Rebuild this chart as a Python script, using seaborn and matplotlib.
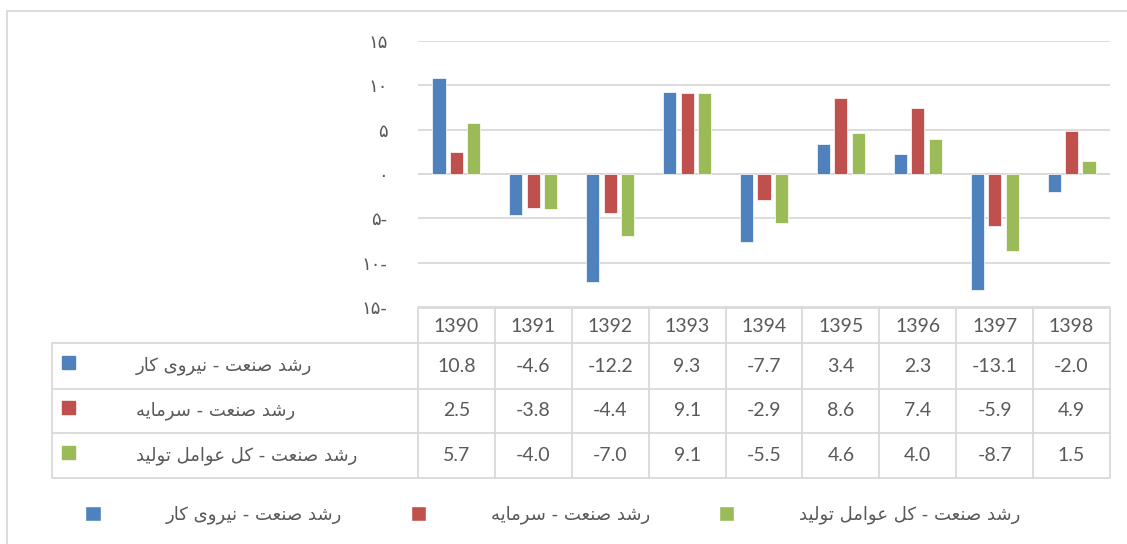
import numpy as np
import pandas as pd
import seaborn as sns
import matplotlib.pyplot as plt
from matplotlib.lines import Line2D
from matplotlib.patches import Patch
from matplotlib.transforms import blended_transform_factory

# data
years = ['1390', '1391', '1392', '1393', '1394', '1395', '1396', '1397', '1398']
labour = [10.8, -4.6, -12.2, 9.3, -7.7, 3.4, 2.3, -13.1, -2.0]
capital = [2.5, -3.8, -4.4, 9.1, -2.9, 8.6, 7.4, -5.9, 4.9]
tfp = [5.7, -4.0, -7.0, 9.1, -5.5, 4.6, 4.0, -8.7, 1.5]
series_names = ['رشد صنعت - نیروی کار', 'رشد صنعت - سرمایه', 'رشد صنعت - کل عوامل تولید']
colors = ['#4F81BD', '#C0504D', '#9BBB59']
yticks = [-15, -10, -5, 0, 5, 10, 15]

# minimal arabic/persian shaping (matplotlib has no complex text layout)
FORMS = {
    'ا': ('\uFE8D', '\uFE8E'), 'د': ('\uFEA9', '\uFEAA'), 'ر': ('\uFEAD', '\uFEAE'),
    'و': ('\uFEED', '\uFEEE'),
    'ت': ('\uFE95', '\uFE96', '\uFE97', '\uFE98'), 'س': ('\uFEB1', '\uFEB2', '\uFEB3', '\uFEB4'),
    'ش': ('\uFEB5', '\uFEB6', '\uFEB7', '\uFEB8'), 'ص': ('\uFEB9', '\uFEBA', '\uFEBB', '\uFEBC'),
    'ع': ('\uFEC9', '\uFECA', '\uFECB', '\uFECC'), 'ل': ('\uFEDD', '\uFEDE', '\uFEDF', '\uFEE0'),
    'م': ('\uFEE1', '\uFEE2', '\uFEE3', '\uFEE4'), 'ن': ('\uFEE5', '\uFEE6', '\uFEE7', '\uFEE8'),
    'ه': ('\uFEE9', '\uFEEA', '\uFEEB', '\uFEEC'), 'ی': ('\uFBFC', '\uFBFD', '\uFBFE', '\uFBFF'),
    'ک': ('\uFB8E', '\uFB8F', '\uFB90', '\uFB91'),
}


def shape(s):
    out = []
    for i, c in enumerate(s):
        if c not in FORMS:
            out.append(c)
            continue
        f = FORMS[c]
        prev = s[i - 1] if i > 0 else ''
        nxt = s[i + 1] if i + 1 < len(s) else ''
        jp = prev in FORMS and len(FORMS[prev]) == 4
        jn = len(f) == 4 and nxt in FORMS
        if jp and jn:
            out.append(f[3])
        elif jp:
            out.append(f[1])
        elif jn:
            out.append(f[2])
        else:
            out.append(f[0])
    return ''.join(out[::-1])


def fa_num(v):
    d = ''.join('۰۱۲۳۴۵۶۷۸۹'[int(ch)] for ch in str(abs(v)))
    return d + ('-' if v < 0 else '')


df = pd.DataFrame({
    'year': years * 3,
    'value': labour + capital + tfp,
    'series': sum([[n] * len(years) for n in series_names], []),
})

sns.set_theme(style='white')
plt.rcParams['font.family'] = ['Lato', 'DejaVu Sans']
txt = '#595959'
grid = '#D9D9D9'

W, H = 1127, 544
fig = plt.figure(figsize=(W / 100, H / 100), dpi=100)
ax = fig.add_axes([418 / W, 1 - 307 / H, 692 / W, 266 / H])

sns.barplot(data=df, x='year', y='value', hue='series', hue_order=series_names,
            palette=colors, saturation=1, width=0.68, gap=0.25, ax=ax, legend=False,
            edgecolor='white', linewidth=0.5)

ax.set_xlim(-0.5, len(years) - 0.5)
ax.set_ylim(-15, 15)
ax.set_yticks(yticks)
ax.set_yticklabels([fa_num(v) for v in yticks], family='DejaVu Sans', fontsize=13, color=txt)
ax.tick_params(axis='y', length=0, pad=22)
ax.set_xticks([])
ax.set_xlabel('')
ax.set_ylabel('')
for s in ax.spines.values():
    s.set_visible(False)
ax.grid(axis='y', color=grid, lw=1.3)
ax.set_axisbelow(True)
ax.axhline(0, color=grid, lw=1.3, zorder=0.5)


def fy(py):
    return 1 - py / H


# data table under the plot
tr = blended_transform_factory(ax.transData, fig.transFigure)
row_y = [308, 343, 389, 433, 478]
x_left = -0.5
x_right = len(years) - 0.5
lab_left = 52 / W
lw_tab = 1.3

fig.add_artist(Line2D([x_left, x_right], [fy(308), fy(308)], transform=tr, color=grid, lw=lw_tab))
for py in row_y[1:]:
    fig.add_artist(Line2D([lab_left, 418 / W], [fy(py), fy(py)], transform=fig.transFigure, color=grid, lw=lw_tab))
    fig.add_artist(Line2D([x_left, x_right], [fy(py), fy(py)], transform=tr, color=grid, lw=lw_tab))
fig.add_artist(Line2D([lab_left, lab_left], [fy(343), fy(478)], transform=fig.transFigure, color=grid, lw=lw_tab))
for k in range(len(years) + 1):
    xk = x_left + k
    fig.add_artist(Line2D([xk, xk], [fy(308), fy(478)], transform=tr, color=grid, lw=lw_tab))

for i, yr in enumerate(years):
    fig.text(i, fy(326), yr, transform=tr, ha='center', va='center', fontsize=14, color=txt)

rows = [labour, capital, tfp]
for r, vals in enumerate(rows):
    yc = (row_y[r + 1] + row_y[r + 2]) / 2
    for i, v in enumerate(vals):
        fig.text(i, fy(yc), f'{v:.1f}', transform=tr, ha='center', va='center', fontsize=14, color=txt)
    fig.text(136 / W, fy(yc), shape(series_names[r]), ha='left', va='center',
             fontsize=13, color=txt, family='DejaVu Sans')
    fig.add_artist(plt.Rectangle((62 / W, fy(yc + 3)), 13 / W, 13 / H, transform=fig.transFigure,
                                 color=colors[r]))

# legend
handles = [Patch(facecolor=c) for c in colors]
fig.legend(handles, [shape(n) for n in series_names], loc='center', bbox_to_anchor=(553 / W, fy(515)),
           ncol=3, frameon=False, prop={'family': 'DejaVu Sans', 'size': 13},
           labelcolor=txt, handlelength=0.85, handleheight=0.85, handletextpad=3.6, columnspacing=3.8)

# chart border (cropped on right and bottom)
fig.add_artist(Line2D([7 / W, 1], [fy(10.5), fy(10.5)], transform=fig.transFigure, color=grid, lw=1.3))
fig.add_artist(Line2D([7 / W, 7 / W], [fy(10.5), 0], transform=fig.transFigure, color=grid, lw=1.3))

fig.savefig('out.png', dpi=100)
